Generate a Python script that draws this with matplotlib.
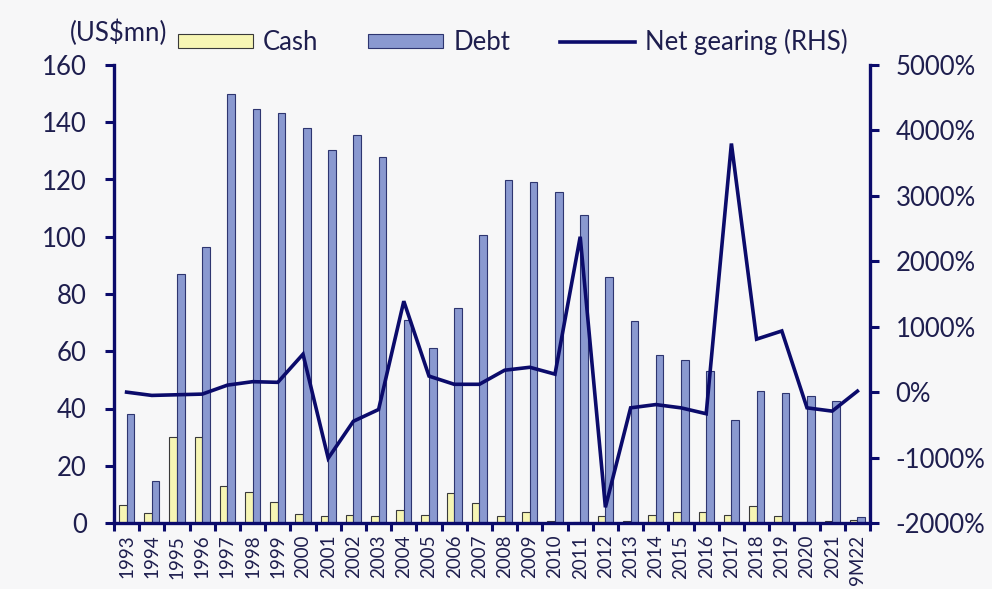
import matplotlib
matplotlib.use("Agg")
import matplotlib.pyplot as plt
import numpy as np
from matplotlib.lines import Line2D
from matplotlib.patches import Patch

years = ["1993", "1994", "1995", "1996", "1997", "1998", "1999", "2000", "2001", "2002",
         "2003", "2004", "2005", "2006", "2007", "2008", "2009", "2010", "2011", "2012",
         "2013", "2014", "2015", "2016", "2017", "2018", "2019", "2020", "2021", "9M22"]
cash = [6.3, 3.6, 30.2, 30.0, 13.0, 10.8, 7.3, 3.2, 2.3, 2.9,
        2.3, 4.5, 2.7, 10.4, 7.1, 2.4, 4.0, 0.8, 0.5, 2.4,
        0.8, 2.8, 3.7, 3.7, 2.9, 6.0, 2.4, 0.5, 0.8, 1.2]
debt = [38.0, 14.5, 87.0, 96.5, 150.0, 144.6, 143.4, 137.9, 130.3, 135.6,
        127.9, 71.0, 61.0, 75.0, 100.5, 119.7, 119.0, 115.5, 107.5, 85.8,
        70.7, 58.8, 57.0, 53.0, 36.0, 46.2, 45.4, 44.5, 42.7, 2.2]
net_gearing = [0, -50, -40, -30, 107, 160, 150, 580, -1010, -445,
               -265, 1390, 245, 120, 120, 335, 380, 275, 2375, -1760,
               -240, -190, -240, -330, 3800, 810, 935, -240, -290, 15]

navy = "#0B0B6B"
text_col = "#1E1E4E"
bg = "#F7F7F8"
cash_col = "#F7F6B4"
debt_col = "#8A99D0"
fs = 18.5

plt.rcParams["font.family"] = ["Lato", "DejaVu Sans"]

fig = plt.figure(figsize=(9.92, 5.89), dpi=100, facecolor=bg)
ax = fig.add_axes([114 / 992, 1 - 523 / 589, (870 - 114) / 992, (523 - 65) / 589])
ax.set_facecolor(bg)

x = np.arange(len(years))
w = 0.3
ax.bar(x - w / 2, cash, width=w, color=cash_col, edgecolor="#3A3A3A", linewidth=0.8, zorder=2)
ax.bar(x + w / 2, debt, width=w, color=debt_col, edgecolor="#2E3570", linewidth=0.8, zorder=2)

ax.set_xlim(-0.5, len(years) - 0.5)
ax.set_ylim(0, 160)
ax.set_yticks(np.arange(0, 161, 20))

ax2 = ax.twinx()
ax2.plot(x, net_gearing, color=navy, linewidth=2.6, zorder=5, solid_joinstyle="miter")
ax2.set_ylim(-2000, 5000)
ax2.set_yticks(np.arange(-2000, 5001, 1000))
ax2.set_yticklabels([f"{v}%" for v in range(-2000, 5001, 1000)])

# x labels at category centres, tick marks on category boundaries
ax.set_xticks(x)
ax.set_xticklabels(years, rotation=90, fontsize=13.5, color=text_col)
ax.set_xticks(np.arange(-0.5, len(years), 1.0), minor=True)
ax.tick_params(axis="x", which="major", length=0, pad=8.5)
ax.tick_params(axis="x", which="minor", length=6, width=2.2, color=navy, direction="out")

ax.tick_params(axis="y", length=6.5, width=2.2, color=navy, labelsize=fs, labelcolor=text_col, pad=13)
ax2.tick_params(axis="y", length=6.5, width=2.2, color=navy, labelsize=fs, labelcolor=text_col, pad=12)

for a in (ax, ax2):
    a.spines["top"].set_visible(False)
    for s in ("left", "right", "bottom"):
        a.spines[s].set_color(navy)
        a.spines[s].set_linewidth(2.4)
ax.spines["right"].set_visible(False)
ax2.spines["left"].set_visible(False)
ax2.spines["bottom"].set_visible(False)

fig.text(70 / 992, 1 - 33 / 589, "(US$mn)", fontsize=fs, color=text_col, va="center", ha="left")

handles = [
    Patch(facecolor=cash_col, edgecolor="#3A3A3A", linewidth=0.8),
    Patch(facecolor=debt_col, edgecolor="#2E3570", linewidth=0.8),
    Line2D([0], [0], color=navy, linewidth=2.6),
]
leg = fig.legend(handles, ["Cash", "Debt", "Net gearing (RHS)"], ncol=3,
                 loc="center left", bbox_to_anchor=(178 / 992, 1 - 42 / 589),
                 frameon=False, fontsize=fs, handlelength=2.9, handleheight=0.45,
                 handletextpad=0.4, columnspacing=1.95, borderaxespad=0, borderpad=0)
for t in leg.get_texts():
    t.set_color(text_col)

fig.savefig("out.png", dpi=100, facecolor=bg)
